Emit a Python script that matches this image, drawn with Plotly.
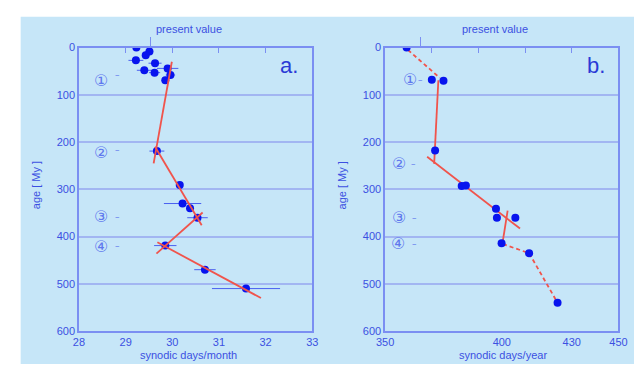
import plotly.graph_objects as go

W, H = 643, 370

# ---------------- data ----------------
# panel a: synodic days / month
a_days = [29.23, 29.51, 29.43, 29.22, 29.63, 29.90, 29.40, 29.62, 29.96, 29.85,
          29.67, 30.16, 30.22, 30.38, 30.54, 29.85, 30.70, 31.58]
a_age = [0, 8, 16, 27, 33, 44, 48, 53, 58, 69,
         219, 291, 330, 340, 360, 419, 470, 510]
a_err = [0, 0.08, 0, 0.16, 0.14, 0.23, 0.16, 0.12, 0.1, 0.08,
         0.16, 0, 0.4, 0, 0.22, 0.24, 0.23, 0.73]
a_fit_days = [[29.99, 29.60], [29.63, 30.63], [30.65, 29.66], [29.68, 31.90]]
a_fit_age = [[30, 245], [210, 376], [349, 436], [412, 530]]
a_present = 29.53

# panel b: synodic days / year
b_days = [359.2, 370.0, 375.0, 371.4, 382.8, 384.6, 397.5, 397.9, 405.8, 399.9, 411.7, 423.9]
b_age = [0, 68, 70, 218, 293, 292, 341, 360, 360, 414, 435, 540]
b_fit_days = [[372.8, 371.0], [368.0, 407.8], [402.5, 400.3]]
b_fit_age = [[69, 246], [231, 383], [345, 414]]
b_dash_days = [[359.8, 373.4], [400.5, 411.7, 423.9]]
b_dash_age = [[5, 64], [416, 435, 540]]
b_present = 365.25

# tick labels
age_ticks = [0, 100, 200, 300, 400, 500, 600]
a_xticks = [28, 29, 30, 31, 32, 33]
a_top_ticks = [29, 30, 31, 32]
b_xticks = [350, 400, 430, 450]
b_top_ticks = [370, 390, 410, 430]

# event labels (circled numbers)
ev_labels = ["①", "②", "③", "④"]
a_ev_age = [70, 223, 358, 420]
a_ev_dash_age = [57, 217, 358, 420]
b_ev_x = [360.8, 355.8, 355.8, 355.4]
b_ev_age = [68, 246, 360, 415]
b_ev_dash_x = [365.0, 362.0, 362.5, 362.5]

# ---------------- style ----------------
BG = "#c6e6f8"
AX = "#7b8ff2"
GRID = "#a2b6f2"
TXT = "#3b50e2"
DOT = "#0814ee"
RED = "#f0544c"
FONT = "Liberation Sans, Arial, sans-serif"


def px_x(p):
    return p / W


def px_y(p):
    return 1 - p / H


dom_a = [px_x(72), px_x(312)]
dom_b = [px_x(387), px_x(627)]
dom_y = [px_y(336), px_y(43)]

fig = go.Figure()

# panel a dots
fig.add_trace(go.Scatter(x=a_days, y=a_age, mode="markers", xaxis="x", yaxis="y",
                         marker=dict(color=DOT, size=8),
                         error_x=dict(type="data", array=a_err, color="#4a60f0",
                                      thickness=1, width=0),
                         showlegend=False))
for xs, ys in zip(a_fit_days, a_fit_age):
    fig.add_trace(go.Scatter(x=xs, y=ys, mode="lines", xaxis="x", yaxis="y",
                             line=dict(color=RED, width=1.8), showlegend=False))

# panel b
for xs, ys in zip(b_fit_days, b_fit_age):
    fig.add_trace(go.Scatter(x=xs, y=ys, mode="lines", xaxis="x2", yaxis="y2",
                             line=dict(color=RED, width=1.8), showlegend=False))
for xs, ys in zip(b_dash_days, b_dash_age):
    fig.add_trace(go.Scatter(x=xs, y=ys, mode="lines", xaxis="x2", yaxis="y2",
                             line=dict(color=RED, width=1.8, dash="4px,3px"),
                             showlegend=False))
fig.add_trace(go.Scatter(x=b_days, y=b_age, mode="markers", xaxis="x2", yaxis="y2",
                         marker=dict(color=DOT, size=8), showlegend=False))

# helper traces on overlay axes
for xa in ["x3", "x4", "x5", "x6"]:
    fig.add_trace(go.Scatter(x=[None], y=[None], xaxis=xa, yaxis="y" if xa in ("x3", "x4") else "y2",
                             showlegend=False, hoverinfo="skip"))

tickfont = dict(family=FONT, size=11, color=TXT)

common_x = dict(showgrid=False, zeroline=False, showline=True, linecolor=AX, linewidth=1.5,
                mirror=True, ticks="", tickfont=tickfont)
common_y = dict(showgrid=True, gridcolor=GRID, gridwidth=1.5, zeroline=False,
                showline=True, linecolor=AX, linewidth=1.5, mirror=True, ticks="",
                tickvals=age_ticks, tickfont=tickfont, range=[600, 0], domain=dom_y)

fig.update_layout(
    width=W, height=H,
    margin=dict(l=0, r=0, t=0, b=0),
    paper_bgcolor="white",
    plot_bgcolor=BG,
    xaxis=dict(common_x, domain=dom_a, range=[28, 33], tickvals=a_xticks, anchor="y"),
    yaxis=dict(common_y, anchor="x"),
    xaxis2=dict(common_x, domain=dom_b, range=[350, 450], tickvals=b_xticks, anchor="y2"),
    yaxis2=dict(common_y, anchor="x2"),
    xaxis3=dict(overlaying="x", side="top", anchor="y", range=[28, 33], tickvals=a_top_ticks,
                ticks="inside", ticklen=5, tickcolor=AX, tickwidth=1.2,
                showticklabels=False, showgrid=False, zeroline=False, showline=False),
    xaxis4=dict(overlaying="x", side="top", anchor="y", range=[28, 33], tickvals=[a_present],
                ticks="outside", ticklen=10, tickcolor=AX, tickwidth=1.2,
                showticklabels=False, showgrid=False, zeroline=False, showline=False),
    xaxis5=dict(overlaying="x2", side="top", anchor="y2", range=[350, 450], tickvals=b_top_ticks,
                ticks="inside", ticklen=5, tickcolor=AX, tickwidth=1.2,
                showticklabels=False, showgrid=False, zeroline=False, showline=False),
    xaxis6=dict(overlaying="x2", side="top", anchor="y2", range=[350, 450], tickvals=[b_present],
                ticks="outside", ticklen=10, tickcolor=AX, tickwidth=1.2,
                showticklabels=False, showgrid=False, zeroline=False, showline=False),
    shapes=[dict(type="rect", xref="paper", yref="paper", x0=px_x(12), x1=1.0,
                 y0=0, y1=px_y(11), fillcolor=BG, line=dict(width=0), layer="below")],
)

ann = []
# titles
for cx, lab in [(185, "synodic days/month"), (508, "synodic days/year")]:
    ann.append(dict(xref="paper", yref="paper", x=px_x(cx), y=px_y(361), text=lab,
                    showarrow=False, font=dict(family=FONT, size=11, color=TXT),
                    xanchor="center", yanchor="middle"))
for cx in [185, 500]:
    ann.append(dict(xref="paper", yref="paper", x=px_x(cx), y=px_y(24), text="present value",
                    showarrow=False, font=dict(family=FONT, size=11, color=TXT),
                    xanchor="center", yanchor="middle"))
for cx in [28, 343]:
    ann.append(dict(xref="paper", yref="paper", x=px_x(cx), y=px_y(185), text="age [ My ]",
                    textangle=-90, showarrow=False, font=dict(family=FONT, size=11, color=TXT),
                    xanchor="center", yanchor="middle"))
for cx, lab in [(288, "a."), (604, "b.")]:
    ann.append(dict(xref="paper", yref="paper", x=px_x(cx), y=px_y(61), text=lab,
                    showarrow=False, font=dict(family=FONT, size=22, color="#2a3ad6"),
                    xanchor="center", yanchor="middle"))

EVC = "#5f78ee"
for lab, ag, dag in zip(ev_labels, a_ev_age, a_ev_dash_age):
    ann.append(dict(xref="x", yref="y", x=28.48, y=ag, text=lab, showarrow=False,
                    font=dict(family="DejaVu Sans", size=16, color=EVC),
                    xanchor="center", yanchor="middle"))
    ann.append(dict(xref="x", yref="y", x=28.82, y=dag, text="–", showarrow=False,
                    font=dict(family="DejaVu Sans", size=9, color=EVC),
                    xanchor="center", yanchor="middle"))
for lab, bx, ag, dx in zip(ev_labels, b_ev_x, b_ev_age, b_ev_dash_x):
    ann.append(dict(xref="x2", yref="y2", x=bx, y=ag, text=lab, showarrow=False,
                    font=dict(family="DejaVu Sans", size=16, color=EVC),
                    xanchor="center", yanchor="middle"))
    ann.append(dict(xref="x2", yref="y2", x=dx, y=ag, text="–", showarrow=False,
                    font=dict(family="DejaVu Sans", size=9, color=EVC),
                    xanchor="center", yanchor="middle"))

fig.update_layout(annotations=ann)

fig.write_html(
    "out.html",
    config={"displayModeBar": False},
    post_script=(
        "document.body.style.margin='0';document.body.style.padding='0';"
        "document.body.style.overflow='hidden';"
        "document.documentElement.style.overflow='hidden';"
    ),
)
